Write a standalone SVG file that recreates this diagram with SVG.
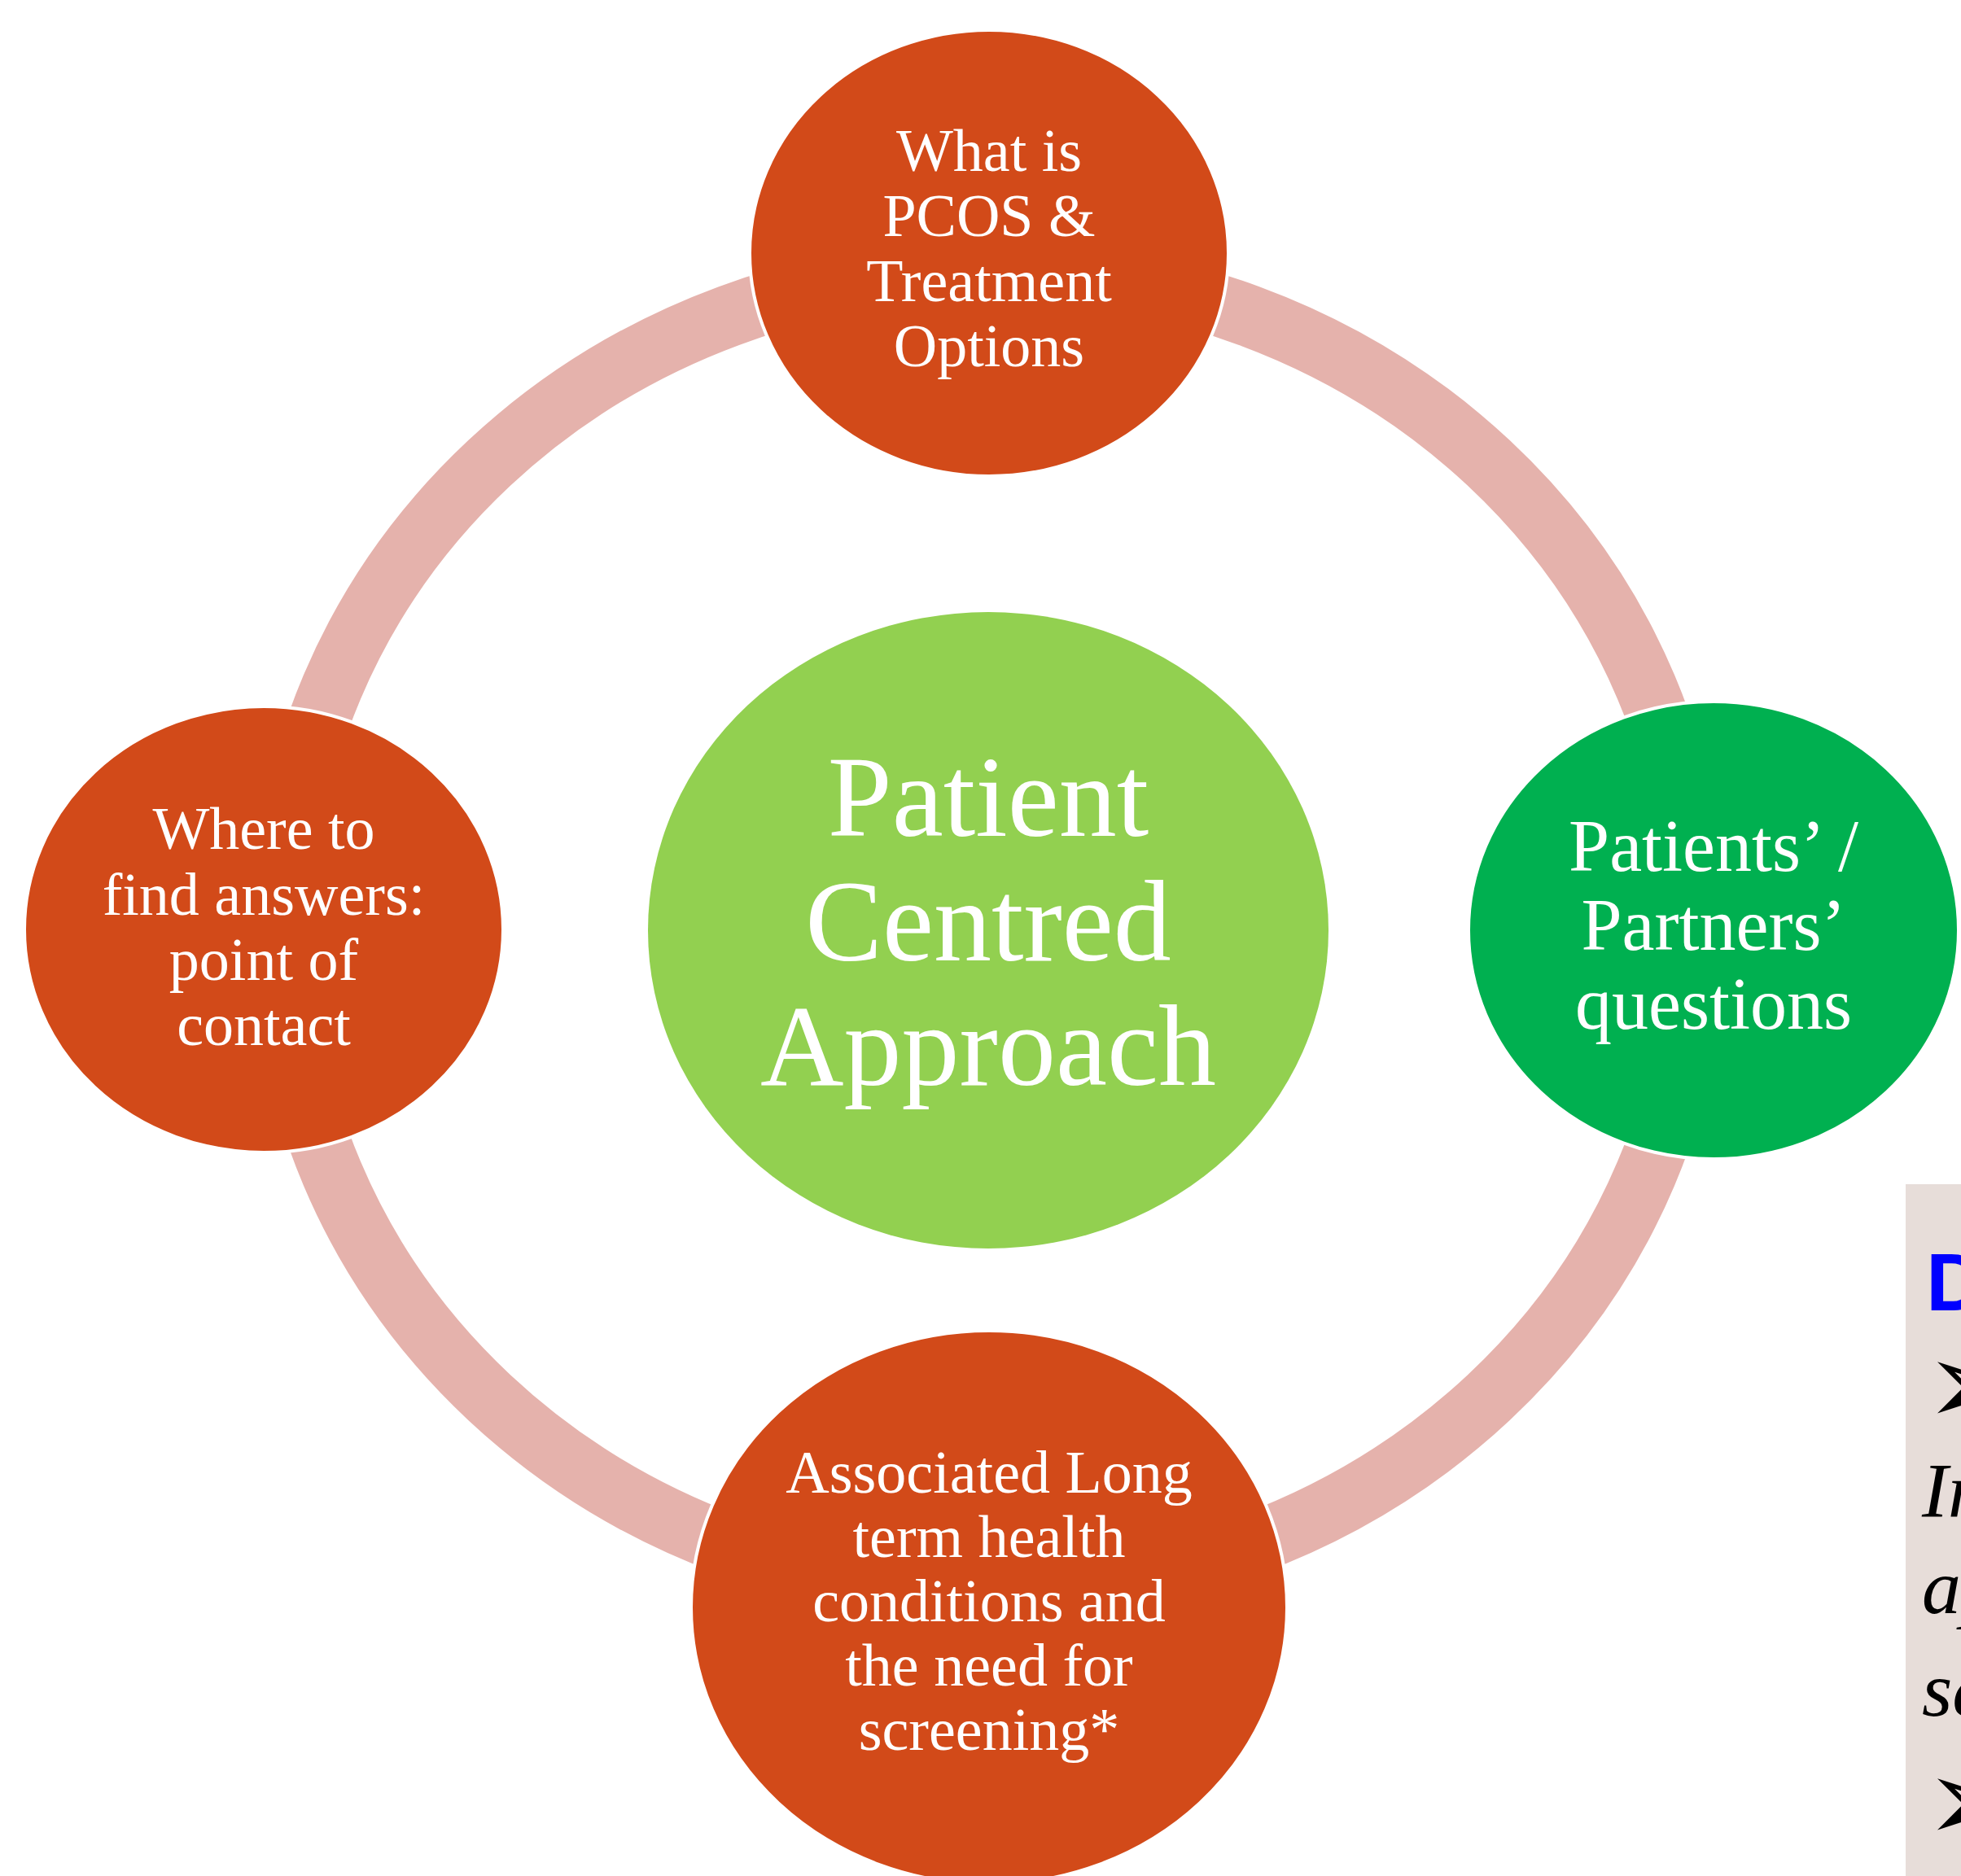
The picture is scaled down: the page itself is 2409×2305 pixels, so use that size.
<svg xmlns="http://www.w3.org/2000/svg" width="2409" height="2305" viewBox="0 0 2409 2305">
<style>
.node{stroke:#FFFFFF;stroke-width:4}
.orange{fill:#D24A19}
.lbl{font-family:"Liberation Serif","Times New Roman",serif;fill:#FFFFFF;text-anchor:middle}
.ring{fill:none;stroke:#E5B2AC;stroke-width:76}
.note{font-family:"Liberation Serif","Times New Roman",serif;font-style:italic;font-size:96px;fill:#000000}
.arrow{font-family:"DejaVu Sans",sans-serif;font-size:144px;fill:#000000}
</style>
<rect x="0" y="0" width="2409" height="2305" fill="#FFFFFF"/>
<g id="connectors">
<ellipse class="ring" cx="1215" cy="1143" rx="868" ry="812"/>
</g>
<g id="node-center">
<ellipse cx="1214" cy="1143" rx="418" ry="391" fill="#92D050"/>
<text class="lbl" font-size="142" x="1214" y="1027">Patient</text>
<text class="lbl" font-size="142" x="1214" y="1180">Centred</text>
<text class="lbl" font-size="142" x="1214" y="1333">Approach</text>
</g>
<g id="node-top">
<ellipse class="node orange" cx="1215" cy="311" rx="294" ry="274"/>
<text class="lbl" font-size="74" x="1215" y="210">What is</text>
<text class="lbl" font-size="74" x="1215" y="290">PCOS &amp;</text>
<text class="lbl" font-size="74" x="1215" y="370">Treatment</text>
<text class="lbl" font-size="74" x="1215" y="450">Options</text>
</g>
<g id="node-right">
<ellipse class="node" cx="2105" cy="1143" rx="301" ry="281" fill="#00B050"/>
<text class="lbl" font-size="90" x="2105" y="1070">Patients’ /</text>
<text class="lbl" font-size="90" x="2105" y="1167">Partners’</text>
<text class="lbl" font-size="90" x="2105" y="1264">questions</text>
</g>
<g id="node-left">
<ellipse class="node orange" cx="324" cy="1142" rx="294" ry="274"/>
<text class="lbl" font-size="74" x="324" y="1043">Where to</text>
<text class="lbl" font-size="74" x="324" y="1124">find answers:</text>
<text class="lbl" font-size="74" x="324" y="1204">point of</text>
<text class="lbl" font-size="74" x="324" y="1284">contact</text>
</g>
<g id="node-bottom">
<ellipse class="node orange" cx="1215" cy="1975" rx="366" ry="340"/>
<text class="lbl" font-size="74" x="1215" y="1834">Associated Long</text>
<text class="lbl" font-size="74" x="1215" y="1913">term health</text>
<text class="lbl" font-size="74" x="1215" y="1992">conditions and</text>
<text class="lbl" font-size="74" x="1215" y="2071">the need for</text>
<text class="lbl" font-size="74" x="1215" y="2150">screening*</text>
</g>
<g id="note-box">
<rect x="2341" y="1455" width="100" height="880" fill="#E7DDD9"/>
<text x="2366" y="1610" font-family="Liberation Sans, Arial, sans-serif" font-weight="bold" font-size="100" fill="#0000FF">D</text>
<text class="arrow" x="2364" y="1750">➢</text>
<text class="note" x="2361" y="1864">In</text>
<text class="note" x="2361" y="1982">ap</text>
<text class="note" x="2361" y="2108">se</text>
<text class="arrow" x="2364" y="2262">➢</text>
</g>
</svg>
